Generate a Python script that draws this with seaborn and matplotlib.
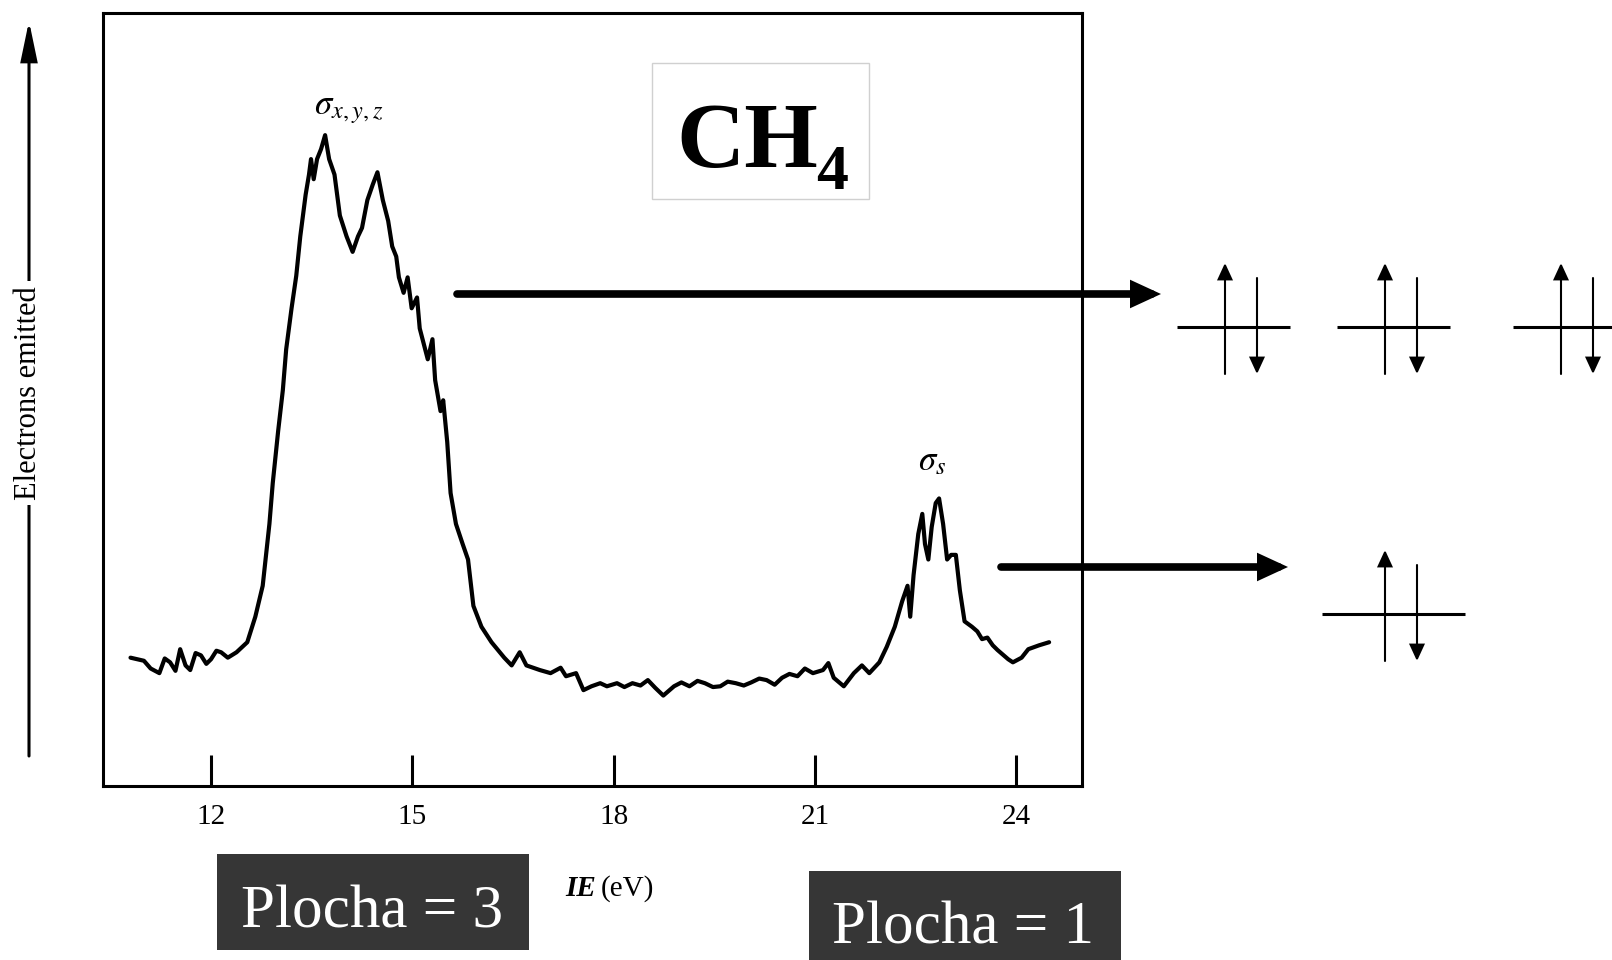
import matplotlib
matplotlib.use('Agg')
import matplotlib.pyplot as plt
import seaborn as sns
import pandas as pd
from matplotlib.patches import Rectangle, FancyArrowPatch
from matplotlib.lines import Line2D

# photoelectron spectrum of CH4
ie_ev = [10.80, 11.00, 11.10, 11.23, 11.31, 11.39, 11.47, 11.54, 11.62, 11.69, 11.77, 11.85, 11.93,
         12.00, 12.08, 12.15, 12.25, 12.38, 12.54, 12.66, 12.77, 12.87, 12.92, 13.00, 13.07,
         13.12, 13.20, 13.27, 13.33, 13.41, 13.46, 13.49, 13.53, 13.58, 13.64, 13.70, 13.76,
         13.84, 13.92, 14.02, 14.11, 14.19, 14.25, 14.33, 14.41, 14.48, 14.56, 14.64, 14.70,
         14.76, 14.80, 14.87, 14.93, 14.99, 15.07, 15.11, 15.17, 15.23, 15.30, 15.34, 15.42,
         15.46, 15.52, 15.57, 15.65, 15.75, 15.83, 15.91, 16.03, 16.18, 16.37, 16.48, 16.60,
         16.70, 16.90, 17.06, 17.21, 17.29, 17.44, 17.55, 17.67, 17.80, 17.90, 18.05, 18.16,
         18.28, 18.40, 18.51, 18.62, 18.74, 18.90, 19.01, 19.13, 19.25, 19.36, 19.48, 19.59,
         19.70, 19.82, 19.94, 20.05, 20.17, 20.28, 20.40, 20.51, 20.62, 20.74, 20.85, 20.97,
         21.12, 21.20, 21.28, 21.43, 21.58, 21.70, 21.81, 21.96, 22.07, 22.19, 22.30, 22.38,
         22.42, 22.47, 22.54, 22.60, 22.64, 22.69, 22.74, 22.80, 22.85, 22.91, 22.97, 23.03,
         23.10, 23.16, 23.23, 23.34, 23.42, 23.49, 23.57, 23.65, 23.72, 23.80, 23.88, 23.95,
         24.08, 24.18, 24.34, 24.49]
electrons = [16.6, 16.2, 15.2, 14.6, 16.5, 16.0, 14.9, 17.7, 15.6, 15.0, 17.2, 16.9, 15.8,
             16.4, 17.5, 17.3, 16.6, 17.3, 18.6, 21.9, 25.9, 33.9, 39.2, 45.9, 51.2,
             56.5, 61.8, 66.0, 71.1, 76.5, 79.1, 81.1, 78.5, 81.1, 82.4, 84.2, 81.1,
             79.1, 73.8, 71.1, 69.1, 71.1, 72.2, 75.8, 77.8, 79.4, 75.8, 73.1, 69.8,
             68.5, 65.8, 63.8, 65.8, 61.8, 63.2, 59.2, 57.2, 55.2, 57.8, 52.5, 48.5,
             49.9, 44.5, 37.9, 33.9, 31.3, 29.3, 23.3, 20.6, 18.6, 16.6, 15.6, 17.3,
             15.6, 15.0, 14.6, 15.3, 14.2, 14.6, 12.4, 12.9, 13.3, 12.9, 13.3, 12.8,
             13.3, 13.0, 13.7, 12.7, 11.7, 12.9, 13.4, 12.9, 13.6, 13.3, 12.8, 12.9,
             13.5, 13.3, 13.0, 13.4, 13.9, 13.7, 13.1, 14.0, 14.5, 14.2, 15.2, 14.6,
             15.0, 15.9, 14.0, 12.9, 14.6, 15.6, 14.6, 16.0, 18.0, 20.6, 23.9, 25.9,
             21.9, 27.3, 32.6, 35.2, 31.3, 29.3, 33.5, 36.6, 37.2, 33.9, 29.3, 29.9,
             29.9, 25.3, 21.3, 20.6, 20.0, 19.0, 19.2, 18.2, 17.6, 17.0, 16.4, 16.0,
             16.6, 17.7, 18.2, 18.6]
tick_values = [12, 15, 18, 21, 24]
peak_labels = [r'$\sigma_{x,y,z}$', r'$\sigma_s$']
peak_ie = [14.05, 22.75]
peak_height = [86.9, 40.9]
area_labels = ['Plocha = 3', 'Plocha = 1']

sns.set_theme(style='white')
plt.rcParams['font.family'] = ['Liberation Serif', 'DejaVu Serif']
plt.rcParams['mathtext.fontset'] = 'stix'
plt.rcParams['text.color'] = 'black'

W, H = 1612, 960
fig = plt.figure(figsize=(W / 100, H / 100), dpi=100)
fig.patch.set_facecolor('white')


def fx(x):
    return x / W


def fy(y):
    return 1 - y / H


ax = fig.add_axes([fx(103), fy(786), (1082 - 103) / W, (786 - 13) / H])
df = pd.DataFrame({'IE': ie_ev, 'Electrons': electrons})
sns.lineplot(data=df, x='IE', y='Electrons', ax=ax, color='black', linewidth=3,
             estimator=None, sort=False)
ax.set_xlim(10.39, 24.98)
ax.set_ylim(0, 100)
ax.set_xticks(tick_values)
ax.set_yticks([])
ax.set_xlabel('')
ax.set_ylabel('')
ax.tick_params(axis='x', bottom=True, direction='in', length=22, width=2.2, pad=13,
               labelsize=21, colors='black')
for s in ax.spines.values():
    s.set_visible(True)
    s.set_color('black')
    s.set_linewidth(2.2)
ax.set_facecolor('white')

# peak labels
for lab, x, y in zip(peak_labels, peak_ie, peak_height):
    ax.text(x, y, lab, ha='center', va='baseline', fontsize=25, color='black')

# x axis label
fig.text(fx(596), fy(896), 'IE', ha='right', va='baseline', fontsize=21,
         fontstyle='italic', fontweight='bold', color='black')
fig.text(fx(601), fy(896), '(eV)', ha='left', va='baseline', fontsize=21, color='black')


def arrow(x0, y0, x1, y1, lw, hl, hw):
    fig.add_artist(FancyArrowPatch((fx(x0), fy(y0)), (fx(x1), fy(y1)), transform=fig.transFigure,
                                   arrowstyle=f'-|>,head_length={hl},head_width={hw}',
                                   mutation_scale=1, lw=lw, color='black',
                                   shrinkA=0, shrinkB=0, joinstyle='miter'))


def hline(x0, x1, y, lw):
    fig.add_artist(Line2D([fx(x0), fx(x1)], [fy(y), fy(y)], transform=fig.transFigure,
                          color='black', lw=lw, solid_capstyle='butt'))


# y axis label with long arrow
arrow(29, 756, 29, 21, 2.2, 24, 5)
fig.text(fx(29), fy(393), 'Electrons emitted', rotation=90, ha='center', va='center',
         fontsize=22, color='black', bbox=dict(facecolor='white', edgecolor='none', pad=4))

# CH4 box
fig.add_artist(Rectangle((fx(652), fy(199)), (869 - 652) / W, (199 - 63) / H,
                         transform=fig.transFigure, facecolor='white', edgecolor='#d0d0d0', lw=1))
fig.text(fx(676), fy(167), 'CH', ha='left', va='baseline', fontsize=68, fontweight='bold',
         color='black')
fig.text(fx(816), fy(189), '4', ha='left', va='baseline', fontsize=46, fontweight='bold',
         color='black')

# arrows from the peaks to the orbitals
arrow(457, 294, 1161, 294, 5.5, 13, 6)
arrow(1001, 567, 1288, 567, 5.5, 13, 6)


def orbital(x0, x1, y, xu, xd):
    hline(x0, x1, y, 2.2)
    arrow(xu, y + 47, xu, y - 64, 1.5, 10, 4.6)
    arrow(xd, y - 49, xd, y + 47, 1.5, 10, 4.6)


for x0, x1, xu, xd in [(1177, 1290, 1225, 1257), (1337, 1450, 1385, 1417), (1513, 1626, 1561, 1593)]:
    orbital(x0, x1, 327, xu, xd)
orbital(1322, 1465, 614, 1385, 1417)

# area boxes
for lab, (x0, x1, y0, y1, cx, by) in zip(area_labels, [(217, 529, 854, 950, 372, 927),
                                                     (809, 1121, 871, 962, 963, 944)]):
    fig.add_artist(Rectangle((fx(x0), fy(y1)), (x1 - x0) / W, (y1 - y0) / H,
                             transform=fig.transFigure, facecolor='#363636', edgecolor='none'))
    fig.text(fx(cx), fy(by), lab, ha='center', va='baseline', fontsize=44, color='white')

fig.savefig('out.png', dpi=100, facecolor='white')
